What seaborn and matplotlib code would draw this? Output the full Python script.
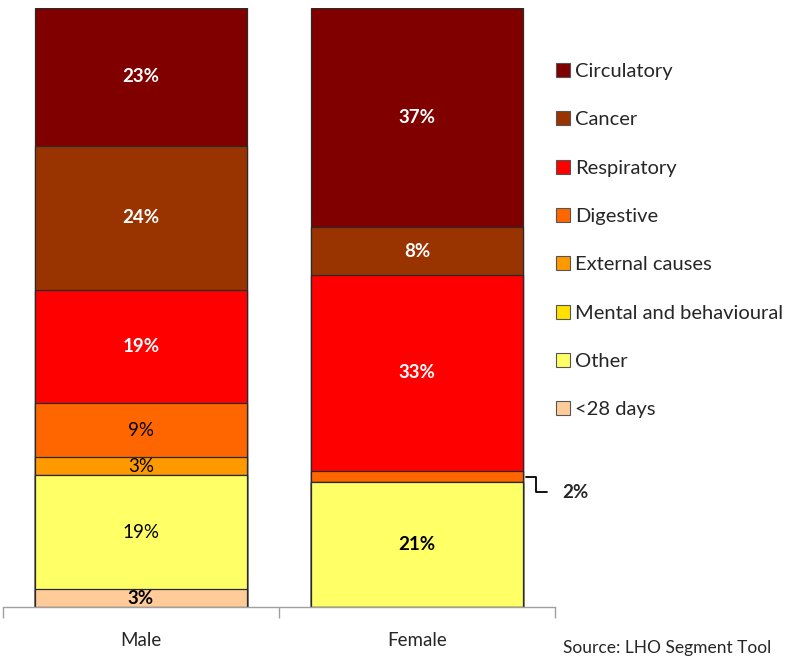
import matplotlib
matplotlib.use("Agg")
import matplotlib.pyplot as plt
import matplotlib.patches as mpatches
import seaborn as sns
import numpy as np
import pandas as pd

sns.set_style("white")
plt.rcParams["font.family"] = ["Lato", "DejaVu Sans"]

# Causes of death, listed from the bottom of each stack to the top
causes = ["<28 days", "Other", "Mental and behavioural", "External causes",
          "Digestive", "Respiratory", "Cancer", "Circulatory"]
colors = ["#FFCC99", "#FFFF66", "#FFE000", "#FF9900",
          "#FF6600", "#FF0000", "#993300", "#800000"]
sexes = ["Male", "Female"]
male = [3, 19, 0, 3, 9, 19, 24, 23]
female = [0, 21, 0, 0, 2, 33, 8, 37]

# label styling per segment (bold flag, text colour)
male_bold = [True, False, False, False, False, True, True, True]
female_bold = [True, True, True, True, True, True, True, True]
label_colors = ["black", "black", "black", "black", "black", "white", "white", "white"]

df = pd.DataFrame({"cause": causes, "Male": male, "Female": female})
# 100% stacked: normalise each column to its own total
for s in sexes:
    df[s + "_pct"] = df[s] / df[s].sum() * 100
    df[s + "_cum"] = df[s + "_pct"].cumsum()

fig = plt.figure(figsize=(7.94, 6.57), dpi=100)
ax = fig.add_axes([3 / 794, 50 / 657, 552 / 794, 599 / 657])

# draw cumulative totals from the tallest down so each layer sits on top
for i in range(len(causes) - 1, -1, -1):
    sns.barplot(x=sexes, y=[df.loc[i, "Male_cum"], df.loc[i, "Female_cum"]],
                color=colors[i], saturation=1, width=0.77,
                edgecolor="#2a2a2a", linewidth=0.9, ax=ax)

ax.set_xlim(-0.5, 1.5)
ax.set_ylim(0, 100)
ax.set_yticks([])
ax.set_ylabel("")
for side in ["left", "right", "top"]:
    ax.spines[side].set_visible(False)
ax.spines["bottom"].set_color("#a0a0a0")
ax.spines["bottom"].set_linewidth(1.0)
ax.tick_params(axis="x", which="major", length=0, pad=18, labelsize=13.5)
ax.set_xticks([-0.5, 0.5, 1.5], minor=True)
ax.tick_params(axis="x", which="minor", bottom=True, length=8, color="#a0a0a0",
               width=1.0, direction="out")

# value labels inside the segments
for j, s in enumerate(sexes):
    vals = df[s].tolist()
    bold = male_bold if s == "Male" else female_bold
    for i, v in enumerate(vals):
        if v == 0 or (s == "Female" and causes[i] == "Digestive"):
            continue
        mid = df.loc[i, s + "_cum"] - df.loc[i, s + "_pct"] / 2
        ax.text(j, mid, f"{v}%", ha="center", va="center",
                fontsize=13.5, fontweight="bold" if bold[i] else "normal",
                color=label_colors[i])

# callout for the thin Female digestive segment
fi = causes.index("Digestive")
dig_mid = df.loc[fi, "Female_cum"] - df.loc[fi, "Female_pct"] / 2
ax.plot([1.395, 1.43, 1.43, 1.47], [dig_mid, dig_mid, dig_mid - 2.6, dig_mid - 2.6],
        color="black", lw=1.3, clip_on=False)
ax.text(1.525, dig_mid - 2.6, f"{female[fi]}%", ha="left", va="center",
        fontsize=13.5, fontweight="bold", clip_on=False)

handles = [mpatches.Patch(facecolor=colors[i], edgecolor="#555555", linewidth=0.8,
                          label=causes[i]) for i in range(len(causes) - 1, -1, -1)]
fig.legend(handles=handles, loc="upper left", bbox_to_anchor=(548 / 794, 1 - 55 / 657),
           frameon=False, fontsize=14.5, handlelength=0.7, handleheight=0.7,
           handletextpad=0.25, labelspacing=1.55, borderaxespad=0)

fig.text(563 / 794, 1 / 657, "Source: LHO Segment Tool", ha="left", va="bottom",
         fontsize=12.5)

fig.savefig("out.png", dpi=100)
